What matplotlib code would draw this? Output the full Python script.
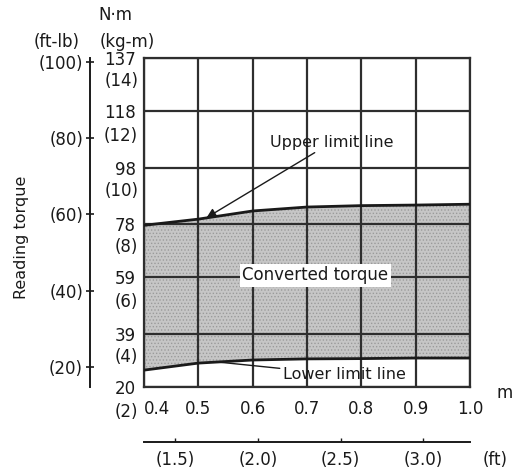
import matplotlib
matplotlib.use('Agg')
import matplotlib.pyplot as plt

# chart values
length_m = [0.4, 0.5, 0.6, 0.7, 0.8, 0.9, 1.0]
upper_nm = [77.5, 79.7, 82.6, 84.0, 84.5, 84.7, 85.0]
lower_nm = [26.0, 28.5, 29.6, 30.0, 30.1, 30.3, 30.3]

nm_ticks = [20, 39, 59, 78, 98, 118, 137]
kgm_ticks = [2, 4, 6, 8, 10, 12, 14]
ftlb_ticks = [20, 40, 60, 80, 100]
ft_ticks = [1.5, 2.0, 2.5, 3.0]

INK = '#1a1a1a'
GRID = '#2e2e2e'


def main():
    plt.rcParams['font.family'] = ['DejaVu Sans']
    plt.rcParams['hatch.linewidth'] = 0.6
    plt.rcParams['hatch.color'] = '#9a9a9a'

    fig = plt.figure(figsize=(5.19, 4.70), dpi=100)
    ax = fig.add_axes([144 / 519, 83 / 470, 326 / 519, 329 / 470])
    ax.set_xlim(0.4, 1.0)
    ax.set_ylim(20, 137)

    # shaded band between limit lines
    ax.fill_between(length_m, lower_nm, upper_nm, facecolor='#c6c6c6',
                    hatch='.....', edgecolor='#9a9a9a', linewidth=0, zorder=1)
    ax.plot(length_m, upper_nm, color=INK, lw=2, zorder=3)
    ax.plot(length_m, lower_nm, color=INK, lw=2, zorder=3)

    ax.set_axisbelow(False)
    ax.grid(True, color=GRID, lw=1.6)
    for s in ax.spines.values():
        s.set_color(GRID)
        s.set_linewidth(1.6)

    ax.set_xticks(length_m)
    ax.set_xticklabels([f'{v:.1f}' for v in length_m])
    ax.tick_params(axis='x', length=0, pad=9, labelsize=12, labelcolor=INK)
    ax.get_xticklabels()[0].set_ha('left')

    ax.set_yticks(nm_ticks)
    ax.set_yticklabels([str(v) for v in nm_ticks])
    ax.tick_params(axis='y', length=0, pad=6, labelsize=12, labelcolor=INK)

    # kg-m labels sit between the N·m labels
    ytr = ax.get_yaxis_transform()
    for kg in kgm_ticks:
        ax.text(-0.018, kg * 9.807 - 8.5, f'({kg})', transform=ytr,
                ha='right', va='center', fontsize=12, color=INK, clip_on=False)

    # ft-lb scale
    sec = ax.secondary_yaxis(-0.1656, functions=(lambda v: v / 1.3558,
                                                  lambda v: v * 1.3558))
    sec.set_yticks(ftlb_ticks)
    sec.set_yticklabels([f'({v})' for v in ftlb_ticks])
    sec.tick_params(direction='inout', length=6, width=1.2, pad=2,
                    labelsize=12, labelcolor=INK, color=INK)
    sec.spines['left'].set_color(INK)
    sec.spines['left'].set_linewidth(1.4)

    # ft scale under the m scale
    secx = ax.secondary_xaxis(-0.167, functions=(lambda v: v / 0.3048,
                                                  lambda v: v * 0.3048))
    secx.set_xticks(ft_ticks)
    secx.set_xticklabels([f'({v:.1f})' for v in ft_ticks])
    secx.tick_params(direction='in', length=3, width=1, pad=6.5,
                     labelsize=12, labelcolor=INK, color=INK)
    secx.spines['bottom'].set_color(INK)
    secx.spines['bottom'].set_linewidth(1.4)

    # annotations
    ax.annotate('Upper limit line', xy=(0.515, 80.2), xytext=(0.632, 107.0),
                ha='left', va='center', fontsize=11.5, color=INK,
                arrowprops=dict(arrowstyle='-|>', color=INK, lw=1,
                                mutation_scale=14, shrinkA=0, shrinkB=0),
                zorder=6)
    ax.text(0.715, 59.8, 'Converted torque', ha='center', va='center',
            fontsize=12, color=INK, zorder=6,
            bbox=dict(boxstyle='square,pad=0.15', fc='white', ec='none'))
    ax.annotate('Lower limit line', xy=(0.535, 28.9), xytext=(0.655, 24.3),
                ha='left', va='center', fontsize=11.5, color=INK,
                arrowprops=dict(arrowstyle='-', color=INK, lw=1,
                                shrinkA=0, shrinkB=0),
                zorder=6)

    # unit headers
    fig.text(115 / 519, 1 - 15 / 470, 'N·m', ha='center', va='center',
             fontsize=12, color=INK)
    fig.text(57 / 519, 1 - 42 / 470, '(ft-lb)', ha='center', va='center',
             fontsize=12, color=INK)
    fig.text(127 / 519, 1 - 42 / 470, '(kg-m)', ha='center', va='center',
             fontsize=12, color=INK)
    fig.text(22 / 519, 1 - 237 / 470, 'Reading torque', rotation=90,
             ha='center', va='center', fontsize=11.5, color=INK)
    fig.text(505 / 519, 1 - 393 / 470, 'm', ha='center', va='center',
             fontsize=12, color=INK)
    fig.text(495 / 519, 1 - 460 / 470, '(ft)', ha='center', va='center',
             fontsize=12, color=INK)

    fig.savefig('out.png', dpi=100)


if __name__ == '__main__':
    main()
